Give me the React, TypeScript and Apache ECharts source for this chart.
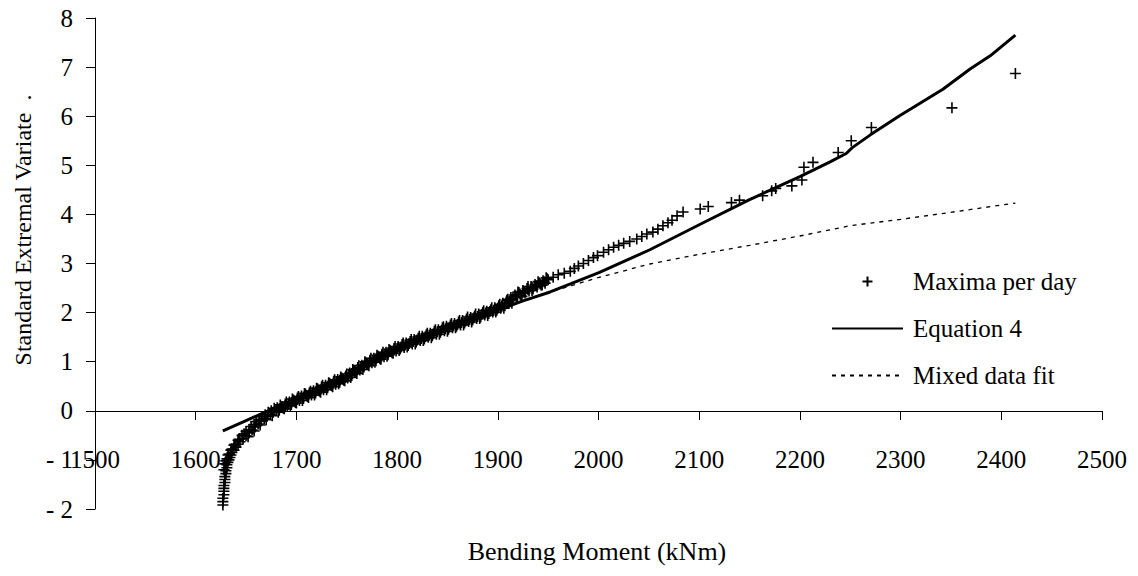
import React, { useEffect, useRef } from "react";
import * as echarts from "echarts";

const maxima: [number, number][] = [
  [1627, -1.92], [1627, -1.85], [1627, -1.78], [1628, -1.71], [1628, -1.64], [1628, -1.58], [1628, -1.52],
  [1629, -1.46], [1629, -1.40], [1629, -1.34], [1630, -1.28], [1630, -1.22], [1631, -1.16], [1631, -1.10],
  [1632, -1.05], [1633, -1.00], [1634, -0.95], [1635, -0.90], [1636, -0.85], [1638, -0.80], [1640, -0.74],
  [1642, -0.68], [1644, -0.63], [1647, -0.57], [1650, -0.51], [1653, -0.45], [1656, -0.39], [1659, -0.33],
  [1662, -0.27], [1665, -0.21], [1668, -0.16], [1671, -0.11], [1674, -0.07], [1677, -0.03], [1680, 0.01],
  [1683, 0.04], [1686, 0.08], [1689, 0.11], [1692, 0.14], [1695, 0.17], [1698, 0.20], [1701, 0.23],
  [1704, 0.26], [1707, 0.28], [1710, 0.31], [1713, 0.34], [1716, 0.37], [1719, 0.39], [1722, 0.42],
  [1725, 0.45], [1728, 0.48], [1731, 0.50], [1734, 0.53], [1737, 0.56], [1740, 0.59], [1743, 0.62],
  [1746, 0.65], [1749, 0.68], [1752, 0.72], [1755, 0.76], [1758, 0.80], [1761, 0.84], [1764, 0.88],
  [1767, 0.92], [1770, 0.96], [1773, 1.00], [1776, 1.03], [1779, 1.06], [1782, 1.09], [1785, 1.12],
  [1788, 1.15], [1791, 1.18], [1794, 1.21], [1797, 1.24], [1800, 1.27], [1804, 1.30], [1808, 1.34],
  [1812, 1.37], [1816, 1.41], [1820, 1.44], [1824, 1.47], [1828, 1.51], [1832, 1.54], [1836, 1.57],
  [1840, 1.61], [1844, 1.64], [1848, 1.67], [1852, 1.70], [1856, 1.73], [1860, 1.76], [1864, 1.80],
  [1868, 1.83], [1872, 1.86], [1876, 1.89], [1880, 1.92], [1884, 1.96], [1888, 1.99], [1892, 2.02],
  [1896, 2.05], [1900, 2.09], [1904, 2.13], [1908, 2.18], [1912, 2.24], [1915, 2.30], [1918, 2.34],
  [1922, 2.38], [1926, 2.42], [1930, 2.47], [1934, 2.51], [1938, 2.55], [1942, 2.59], [1946, 2.63],
  [1950, 2.67], [1955, 2.72], [1960, 2.77], [1966, 2.80], [1972, 2.84], [1976, 2.90], [1980, 2.95],
  [1985, 3.00], [1990, 3.06], [1995, 3.12], [1999, 3.16], [2005, 3.23], [2010, 3.28], [2015, 3.33],
  [2020, 3.37], [2025, 3.41], [2031, 3.45], [2038, 3.50], [2043, 3.55], [2048, 3.60], [2054, 3.64],
  [2059, 3.70], [2064, 3.77], [2069, 3.83], [2073, 3.88], [2078, 3.97], [2084, 4.05], [2101, 4.11],
  [2109, 4.16], [2132, 4.24], [2140, 4.29], [2163, 4.38], [2172, 4.48], [2176, 4.53], [2192, 4.58],
  [2202, 4.70], [2204, 4.96], [2213, 5.06], [2238, 5.26], [2251, 5.50], [2271, 5.77], [2351, 6.17],
  [2414, 6.87],
  // upper edge of the dense band
  [1684, 0.12], [1690, 0.18], [1696, 0.24], [1702, 0.29], [1708, 0.35], [1714, 0.40], [1720, 0.46],
  [1726, 0.52], [1732, 0.57], [1738, 0.63], [1744, 0.69], [1750, 0.75], [1756, 0.84], [1762, 0.92],
  [1768, 1.00], [1774, 1.07], [1780, 1.13], [1786, 1.19], [1792, 1.25], [1798, 1.31], [1806, 1.38],
  [1814, 1.45], [1822, 1.52], [1830, 1.58], [1838, 1.65], [1846, 1.71], [1854, 1.78], [1862, 1.84],
  [1870, 1.91], [1878, 1.97], [1886, 2.04], [1894, 2.10], [1902, 2.17], [1910, 2.27], [1920, 2.42],
  [1930, 2.53], [1940, 2.63], [1948, 2.71],
  // lower edge of the dense band
  [1652, -0.53], [1658, -0.41], [1664, -0.29], [1670, -0.18], [1676, -0.10], [1682, -0.03], [1688, 0.04],
  [1694, 0.10], [1700, 0.16], [1706, 0.21], [1712, 0.27], [1718, 0.32], [1724, 0.38], [1730, 0.43],
  [1736, 0.49], [1742, 0.55], [1748, 0.61], [1754, 0.68], [1760, 0.76], [1766, 0.84], [1772, 0.92],
  [1778, 0.99], [1784, 1.05], [1790, 1.11], [1796, 1.17], [1802, 1.23], [1810, 1.30], [1818, 1.36],
  [1826, 1.43], [1834, 1.49], [1842, 1.56], [1850, 1.62], [1858, 1.69], [1866, 1.75], [1874, 1.81],
  [1882, 1.88], [1890, 1.94], [1898, 2.01], [1906, 2.09], [1914, 2.19], [1924, 2.33], [1934, 2.45],
  [1944, 2.56],
  // inner side of the lower bend
  [1630, -1.02], [1632, -0.90], [1635, -0.80], [1638, -0.70], [1642, -0.60], [1646, -0.50], [1650, -0.42],
  [1655, -0.32], [1660, -0.22], [1666, -0.12], [1672, -0.03], [1678, 0.05],
  [1628, -1.20], [1629, -1.08], [1631, -0.98], [1633, -0.88], [1636, -0.78], [1639, -0.68], [1643, -0.58],
  [1648, -0.47], [1653, -0.38], [1658, -0.28], [1663, -0.18], [1669, -0.08], [1675, 0.00],
  // band, slightly above centre
  [1681, 0.06], [1685, 0.09], [1689, 0.14], [1693, 0.18], [1697, 0.22], [1701, 0.26], [1705, 0.30],
  [1709, 0.34], [1713, 0.37], [1717, 0.41], [1721, 0.45], [1725, 0.49], [1729, 0.52], [1733, 0.56],
  [1737, 0.60], [1741, 0.64], [1745, 0.67], [1749, 0.71], [1753, 0.77], [1757, 0.82], [1761, 0.88],
  [1765, 0.93], [1769, 0.98], [1773, 1.03], [1777, 1.07], [1781, 1.11], [1785, 1.15], [1789, 1.19],
  [1793, 1.23], [1797, 1.27], [1801, 1.31], [1805, 1.35], [1809, 1.38], [1813, 1.41], [1817, 1.45],
  [1821, 1.48], [1825, 1.52], [1829, 1.55], [1833, 1.58], [1837, 1.62], [1841, 1.65], [1845, 1.69],
  [1849, 1.72], [1853, 1.75], [1857, 1.78], [1861, 1.81], [1865, 1.84], [1869, 1.87], [1873, 1.90],
  [1877, 1.93], [1881, 1.97], [1885, 2.00], [1889, 2.03], [1893, 2.06], [1897, 2.10], [1901, 2.14],
  [1905, 2.19], [1909, 2.25], [1913, 2.31], [1917, 2.36], [1921, 2.41], [1925, 2.45], [1929, 2.49],
  [1933, 2.53], [1937, 2.57], [1941, 2.61], [1945, 2.65], [1949, 2.69],
  // band, slightly below centre
  [1683, 0.01], [1687, 0.05], [1691, 0.09], [1695, 0.13], [1699, 0.17], [1703, 0.21], [1707, 0.25],
  [1711, 0.29], [1715, 0.32], [1719, 0.36], [1723, 0.40], [1727, 0.43], [1731, 0.47], [1735, 0.51],
  [1739, 0.54], [1743, 0.58], [1747, 0.62], [1751, 0.67], [1755, 0.72], [1759, 0.78], [1763, 0.83],
  [1767, 0.89], [1771, 0.94], [1775, 0.98], [1779, 1.02], [1783, 1.06], [1787, 1.10], [1791, 1.14],
  [1795, 1.18], [1799, 1.22], [1803, 1.26], [1807, 1.29], [1811, 1.33], [1815, 1.36], [1819, 1.40],
  [1823, 1.43], [1827, 1.46], [1831, 1.50], [1835, 1.53], [1839, 1.56], [1843, 1.60], [1847, 1.63],
  [1851, 1.66], [1855, 1.69], [1859, 1.72], [1863, 1.75], [1867, 1.79], [1871, 1.82], [1875, 1.85],
  [1879, 1.88], [1883, 1.91], [1887, 1.95], [1891, 1.98], [1895, 2.01], [1899, 2.05], [1903, 2.09],
  [1907, 2.14], [1911, 2.19], [1915, 2.26], [1919, 2.31], [1923, 2.35], [1927, 2.40], [1931, 2.44],
  [1935, 2.48], [1939, 2.52], [1943, 2.56], [1947, 2.60],
];

const equation4: [number, number][] = [
  [1627, -0.41], [1650, -0.20], [1683, 0.10], [1700, 0.25], [1750, 0.69], [1775, 1.0], [1800, 1.25],
  [1850, 1.67], [1900, 2.05], [1925, 2.24], [1952, 2.42], [2001, 2.82], [2051, 3.28], [2101, 3.8],
  [2150, 4.3], [2200, 4.77], [2230, 5.07], [2246, 5.24], [2252, 5.36], [2270, 5.62], [2299, 6.01],
  [2342, 6.55], [2369, 6.96], [2389, 7.23], [2414, 7.65],
];

const mixedFit: [number, number][] = [
  [1627, -0.41], [1650, -0.20], [1683, 0.10], [1700, 0.25], [1750, 0.69], [1775, 1.0], [1800, 1.25],
  [1850, 1.67], [1900, 2.05], [1952, 2.42], [2001, 2.72], [2051, 2.99], [2101, 3.19], [2150, 3.37],
  [2200, 3.56], [2250, 3.77], [2300, 3.9], [2349, 4.04], [2414, 4.23],
];

const seriesNames = ["Maxima per day", "Equation 4", "Mixed data fit"];
const xTitle = "Bending Moment (kNm)";
const yTitle = "Standard Extremal Variate  .";

const FONT = "Liberation Serif";

export default function App() {
  const ref = useRef<HTMLDivElement>(null);
  useEffect(() => {
    const chart = echarts.init(ref.current!, null, { renderer: "svg" });
    chart.setOption({
      animation: false,
      backgroundColor: "#fff",
      grid: { left: 95, right: 36, top: 18, bottom: 67, containLabel: false },
      xAxis: {
        type: "value",
        min: 1500,
        max: 2500,
        interval: 100,
        position: "bottom",
        offset: -98,
        axisLine: { onZero: false, lineStyle: { color: "#000", width: 1 } },
        axisTick: { show: true, length: 9, lineStyle: { color: "#000" } },
        axisLabel: {
          color: "#000",
          fontFamily: FONT,
          fontSize: 25,
          margin: 36,
          showMinLabel: true,
          showMaxLabel: true,
          formatter: (v: number) => String(v),
        },
        splitLine: { show: false },
      },
      yAxis: {
        type: "value",
        min: -2,
        max: 8,
        interval: 1,
        axisLine: { show: true, onZero: false, lineStyle: { color: "#000", width: 1 } },
        axisTick: { show: true, length: 9, lineStyle: { color: "#000" } },
        axisLabel: {
          color: "#000",
          fontFamily: FONT,
          fontSize: 25,
          margin: 22,
          formatter: (v: number) => (v < 0 ? "- " + Math.abs(v) : String(v)),
        },
        splitLine: { show: false },
      },
      legend: {
        orient: "vertical",
        left: 831,
        top: 269,
        itemWidth: 71,
        itemHeight: 10,
        itemGap: 22,
        padding: 0,
        selectedMode: false,
        textStyle: { color: "#000", fontFamily: FONT, fontSize: 25, padding: [0, 0, 0, 5] },
        data: seriesNames,
      },
      graphic: [
        {
          type: "text",
          x: 23,
          y: 230,
          rotation: Math.PI / 2,
          style: {
            text: yTitle,
            fill: "#000",
            font: `24px "${FONT}"`,
            textAlign: "center",
            textVerticalAlign: "middle",
            align: "center",
            verticalAlign: "middle",
          },
        },
        {
          type: "text",
          x: 597,
          y: 551,
          style: {
            text: xTitle,
            fill: "#000",
            font: `26px "${FONT}"`,
            textAlign: "center",
            textVerticalAlign: "middle",
            align: "center",
            verticalAlign: "middle",
          },
        },
      ],
      series: [
        {
          name: seriesNames[0],
          type: "scatter",
          data: maxima,
          symbol: "path://M0,5L10,5M5,0L5,10",
          symbolSize: 11,
          itemStyle: { color: "#000", borderColor: "#000", borderWidth: 1.6, opacity: 1 },
          z: 2,
        },
        {
          name: seriesNames[1],
          type: "line",
          data: equation4,
          showSymbol: false,
          symbol: "none",
          itemStyle: { color: "rgba(0,0,0,0)" },
          lineStyle: { color: "#000", width: 3 },
          z: 3,
        },
        {
          name: seriesNames[2],
          type: "line",
          data: mixedFit,
          showSymbol: false,
          symbol: "none",
          itemStyle: { color: "rgba(0,0,0,0)" },
          lineStyle: { color: "#000", width: 1.3, type: [4, 5] },
          z: 3,
        },
      ],
    });
    return () => chart.dispose();
  }, []);
  return <div ref={ref} style={{ position: "fixed", left: 0, top: 0, width: 1138, height: 576 }} />;
}
